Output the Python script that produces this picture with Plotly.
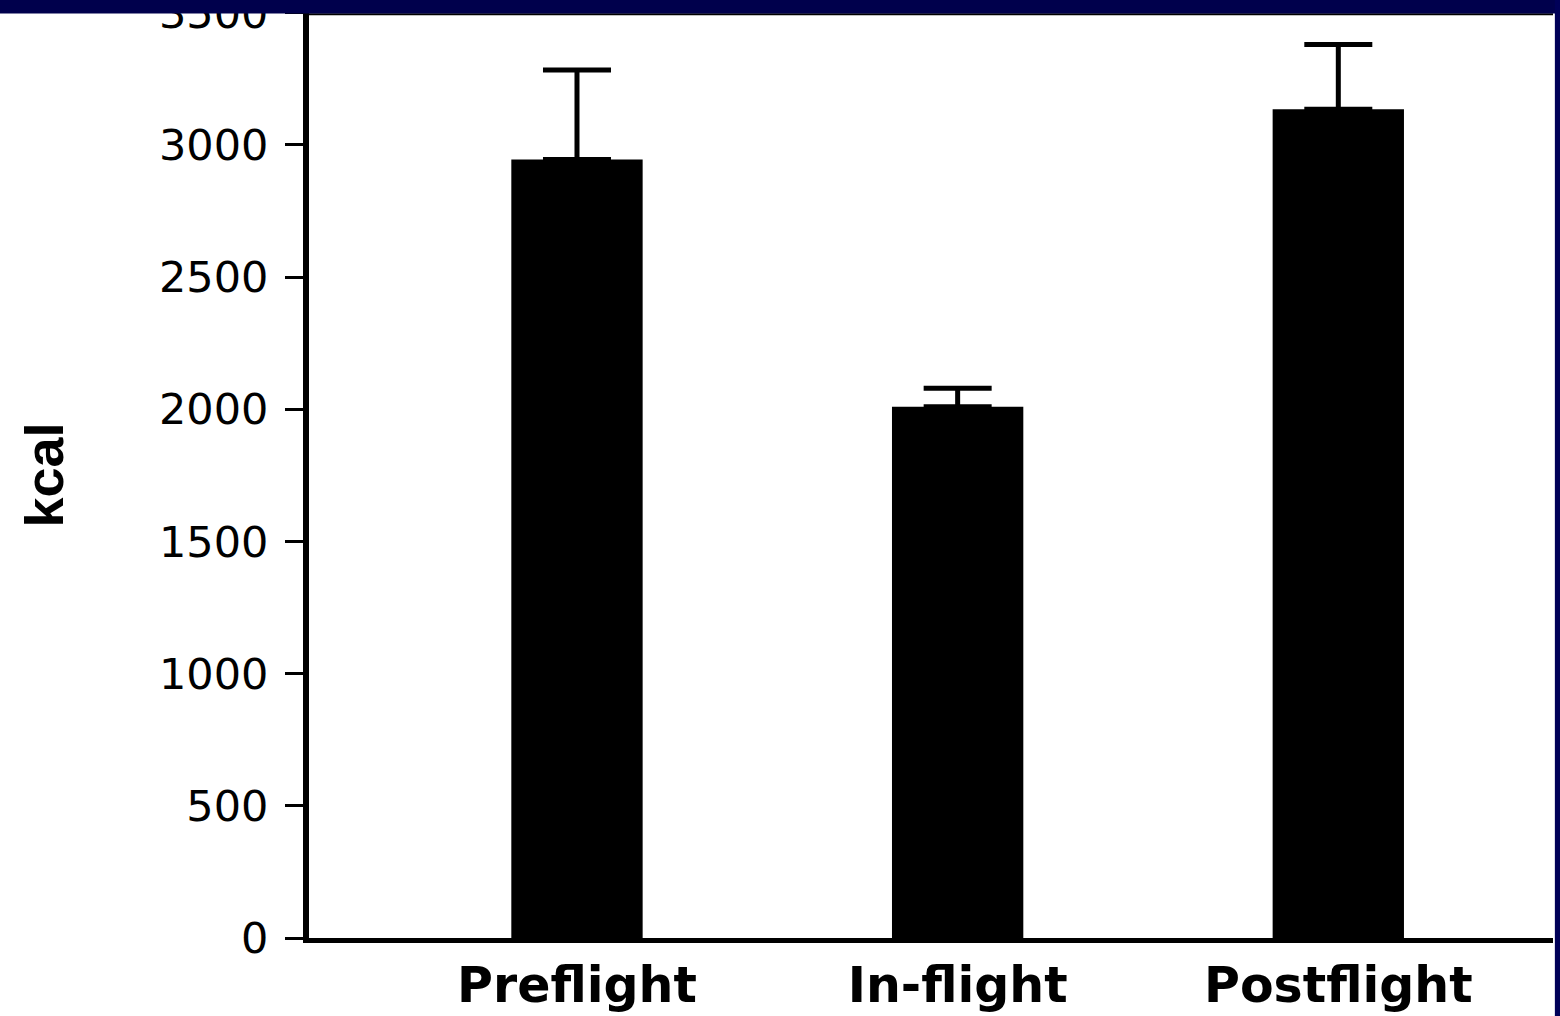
import plotly.graph_objects as go

categories = ["Preflight", "In-flight", "Postflight"]
kcal_mean = [2945, 2010, 3135]
kcal_err = [339, 70, 245]
y_ticks = [0, 500, 1000, 1500, 2000, 2500, 3000, 3500]

fig = go.Figure()
fig.add_trace(go.Bar(
    x=categories,
    y=kcal_mean,
    marker=dict(color="black", line=dict(width=0)),
    error_y=dict(type="data", array=kcal_err, arrayminus=[0] * len(kcal_err),
                 symmetric=False, color="black", thickness=5, width=34),
    width=0.345,
))

fig.update_layout(
    width=1560, height=1016,
    margin=dict(l=309, r=7, t=12, b=78),
    paper_bgcolor="white", plot_bgcolor="white",
    showlegend=False,
    font=dict(family="Liberation Sans, Arial", color="black"),
    xaxis=dict(
        range=[-0.704, 2.564],
        automargin=False,
        showline=True, linecolor="black", linewidth=5,
        ticks="", showgrid=False, zeroline=False,
        tickfont=dict(family="DejaVu Sans", size=49, weight="bold", color="black"),
        ticklabelstandoff=0,
    ),
    yaxis=dict(
        range=[0, 3503],
        automargin=False,
        tickvals=y_ticks,
        ticklabeloverflow="allow",
        showline=True, linecolor="black", linewidth=6,
        ticks="outside", ticklen=18, tickwidth=3, tickcolor="black",
        showgrid=False, zeroline=False,
        tickfont=dict(family="DejaVu Sans", size=43, color="black"),
        ticklabelstandoff=8,
        title=dict(text="kcal", font=dict(family="Liberation Sans, Arial", size=54, weight="bold", color="black"),
                   standoff=80),
    ),
    shapes=[
        dict(type="line", xref="paper", yref="paper", x0=0, x1=1, y0=0.9975, y1=0.9975,
             line=dict(color="black", width=2), layer="above"),
        dict(type="rect", xref="paper", yref="paper", x0=-0.3, x1=1.01, y0=0.9985, y1=1.02,
             fillcolor="#00004c", line=dict(width=0), layer="above"),
        dict(type="rect", xref="paper", yref="paper", x0=1.0015, x1=1.01, y0=-0.1, y1=1.02,
             fillcolor="#000058", line=dict(width=0), layer="above"),
    ],
)

fig.write_html("out.html", config={"displayModeBar": False},
               post_script="document.body.style.margin='0';document.body.style.overflow='hidden';")
